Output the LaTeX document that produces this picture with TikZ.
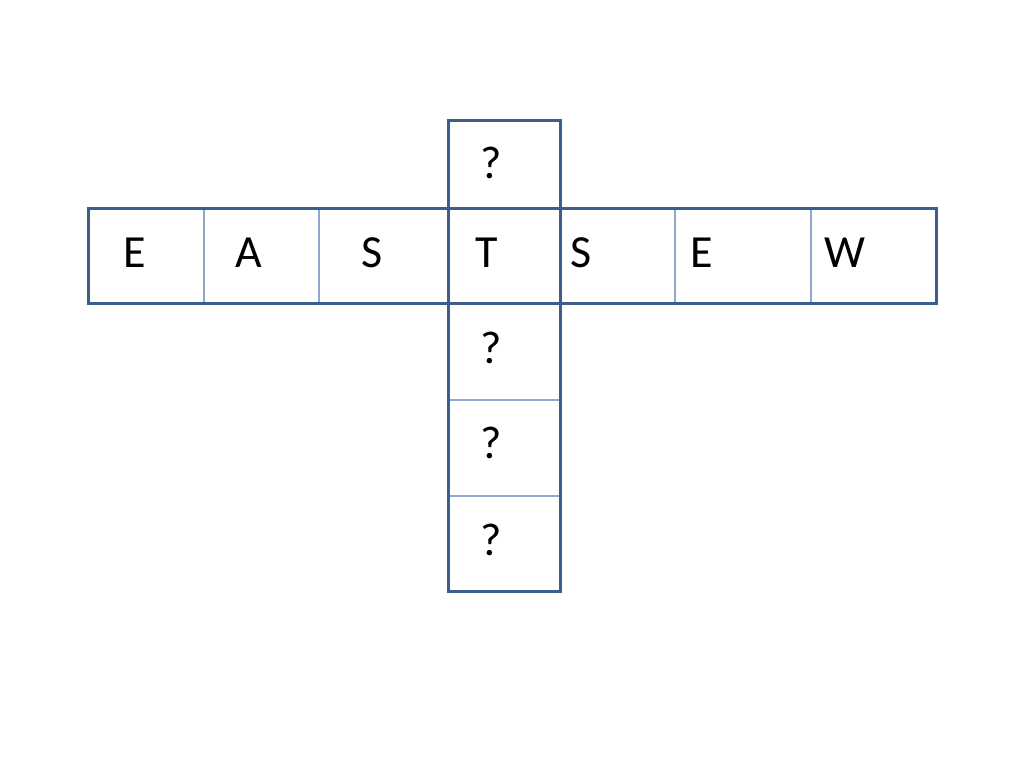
\documentclass[tikz,border=0pt]{standalone}
\usepackage{fontspec}
\setmainfont{Carlito}
\definecolor{frame}{HTML}{3A5F8C}
\definecolor{divider}{HTML}{8EA9D1}
\begin{document}
\begin{tikzpicture}[x=1pt,y=-1pt,
  thickline/.style={draw=frame,line width=3pt,line join=miter},
  thinline/.style={draw=divider,line width=1.2pt},
  letter/.style={font=\fontsize{46}{46}\selectfont,inner sep=0pt,anchor=base}]
\useasboundingbox (0,0) rectangle (1024,768);
% corners
\coordinate (hTL) at (88,208);
\coordinate (hBR) at (936,303);
\coordinate (vTL) at (448,120);
\coordinate (vBR) at (560,591);
% thin dividers (horizontal word)
\foreach \x in {204,319,675,811}
  \draw[thinline] (\x,208) -- (\x,303);
% thin dividers (vertical word)
\foreach \y in {400,496}
  \draw[thinline] (448,\y) -- (560,\y);
% thick frames
\draw[thickline] (vTL) rectangle (vBR);
\draw[thickline] (hTL) rectangle (hBR);
% letters of the row
\node[letter] (e1) at (134.5,267) {E};
\node[letter] (a1) at (248.5,267) {A};
\node[letter] (s1) at (372,267) {S};
\node[letter] (t1) at (486.5,267) {T};
\node[letter] (s2) at (581,267) {S};
\node[letter] (e2) at (702,267) {E};
\node[letter] (w1) at (845,267) {W};
% question marks of the column
\node[letter] (q1) at (491,178) {?};
\node[letter] (q2) at (491,363) {?};
\node[letter] (q3) at (491,458) {?};
\node[letter] (q4) at (491,555) {?};
\end{tikzpicture}
\end{document}
